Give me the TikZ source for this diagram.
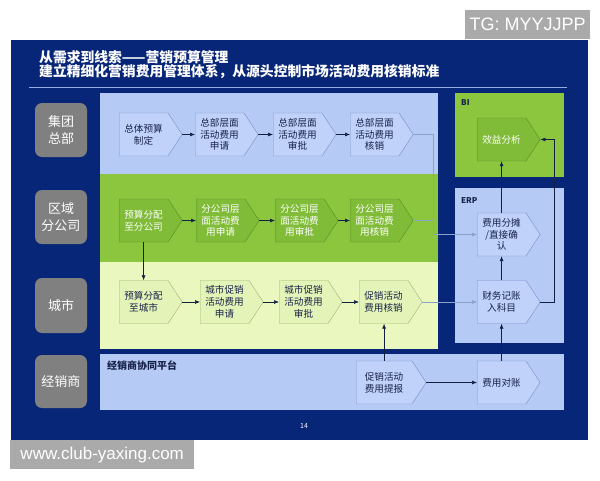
\documentclass[tikz,border=0pt]{standalone}
\usepackage{fontspec}
\setmainfont{Noto Sans CJK SC}
\newfontfamily\wmfont{Liberation Sans}
\usetikzlibrary{shapes.symbols,arrows.meta}

\definecolor{panelblue}{RGB}{8,38,120}
\definecolor{rulecol}{RGB}{150,172,222}
\definecolor{bluelane}{RGB}{182,202,246}
\definecolor{bluebox}{RGB}{192,210,250}
\definecolor{blueline}{RGB}{120,142,200}
\definecolor{greenlane}{RGB}{140,198,63}
\definecolor{greenbox}{RGB}{128,188,56}
\definecolor{greenline}{RGB}{86,142,34}
\definecolor{yellowlane}{RGB}{234,248,192}
\definecolor{yellowbox}{RGB}{228,244,184}
\definecolor{yellowline}{RGB}{160,180,112}
\definecolor{lanegray}{RGB}{128,128,128}
\definecolor{boxtext}{RGB}{24,34,72}
\definecolor{darkline}{RGB}{20,32,66}
\definecolor{paleline}{RGB}{140,160,204}
\definecolor{wmgray}{RGB}{170,170,170}

\tikzset{
    stage/.style={signal, signal to=east, signal from=nowhere, signal pointer angle=113,
        draw, minimum width=63pt, minimum height=43pt, inner sep=1pt, align=center,
        text=boxtext, font=\fontsize{9.6}{11.8}\selectfont},
    bluestage/.style={stage, fill=bluebox, draw=blueline},
    greenstage/.style={stage, fill=greenbox, draw=greenline, text=white},
    yellowstage/.style={stage, fill=yellowbox, draw=yellowline},
    lane/.style={rounded corners=7pt, fill=lanegray, text=white, minimum width=52pt,
        align=center, font=\fontsize{13}{16.5}\selectfont},
    flow/.style={-{Latex[length=5pt,width=4pt]}, draw=darkline, semithick},
    feed/.style={-{Latex[length=5pt,width=4pt]}, draw=paleline, semithick},
    tag/.style={anchor=west, inner sep=0pt, text=boxtext, font=\fontsize{8}{9}\selectfont\bfseries}
}

\begin{document}
\begin{tikzpicture}[x=1pt, y=-1pt]

    \useasboundingbox (0,0) rectangle (600,480);
    \fill[panelblue] (11,40) rectangle (588,440);
    \draw[rulecol, thick] (29,87) -- (567,87);

    \node[anchor=west, inner sep=0pt, text=white, font=\fontsize{13.8}{15}\selectfont\bfseries] (title) at (39,57) {从需求到线索——营销预算管理};
    \node[anchor=west, inner sep=0pt, text=white, font=\fontsize{13.8}{15}\selectfont\bfseries] (subtitle) at (39,72) {建立精细化营销费用管理体系，从源头控制市场活动费用核销标准};

    %lanes
    \fill[bluelane] (100,93) rectangle (438,174);
    \fill[greenlane] (100,174) rectangle (438,262);
    \fill[yellowlane] (100,262) rectangle (438,349);
    \fill[bluelane] (100,354) rectangle (564,410);
    \fill[greenlane] (455,93) rectangle (564,177);
    \fill[bluelane] (455,188) rectangle (564,343);

    \node[lane, minimum height=54pt] (hq) at (61,130) {集团\\总部};
    \node[lane, minimum height=54pt] (branch) at (61,217) {区域\\分公司};
    \node[lane, minimum height=55pt] (city) at (61,305.5) {城市};
    \node[lane, minimum height=53pt] (dealer) at (61,381.5) {经销商};

    \node[tag] (bi) at (461,103) {BI};
    \node[tag] (erp) at (461,201) {ERP};
    \node[tag, font=\fontsize{10}{12}\selectfont\bfseries] (platform) at (107,366) {经销商协同平台};

    %headquarters
    \node[bluestage, anchor=west] (hqA) at (119,134.5) {总体预算\\制定};
    \node[bluestage, anchor=west] (hqB) at (195,134.5) {总部层面\\活动费用\\申请};
    \node[bluestage, anchor=west] (hqC) at (273,134.5) {总部层面\\活动费用\\审批};
    \node[bluestage, anchor=west] (hqD) at (350,134.5) {总部层面\\活动费用\\核销};
    %branch
    \node[greenstage, anchor=west] (brA) at (119,220.5) {预算分配\\至分公司};
    \node[greenstage, anchor=west] (brB) at (196,220.5) {分公司层\\面活动费\\用申请};
    \node[greenstage, anchor=west] (brC) at (275,220.5) {分公司层\\面活动费\\用审批};
    \node[greenstage, anchor=west] (brD) at (350,220.5) {分公司层\\面活动费\\用核销};
    %city
    \node[yellowstage, anchor=west] (ctA) at (119,302) {预算分配\\至城市};
    \node[yellowstage, anchor=west] (ctB) at (200,302) {城市促销\\活动费用\\申请};
    \node[yellowstage, anchor=west] (ctC) at (279,302) {城市促销\\活动费用\\审批};
    \node[yellowstage, anchor=west] (ctD) at (359,302) {促销活动\\费用核销};
    %dealer
    \node[bluestage, anchor=west, minimum width=70pt] (report) at (356,382.5) {促销活动\\费用提报};
    \node[bluestage, anchor=west] (recon) at (477,382.5) {费用对账};
    %systems
    \node[greenstage, anchor=west] (benefit) at (477,139.5) {效益分析};
    \node[bluestage, anchor=west] (split) at (477,234.5) {费用分摊\\/直接确\\认};
    \node[bluestage, anchor=west] (post) at (477,302) {财务记账\\入科目};

    \foreach \a/\b in {hqA/hqB,hqB/hqC,hqC/hqD,brA/brB,brB/brC,brC/brD,ctA/ctB,ctB/ctC,ctC/ctD,report/recon} {
        \draw[flow] (\a.east) -- (\b.west);
    }
    \draw[flow] (brA.south) -- (ctA.north);
    \draw[flow] (report.north) -- (report.north |- ctD.south);
    \draw[flow] (recon.north) -- (post.south);
    \draw[flow] (post.north) -- (split.south);
    \draw[flow] (split.north) -- (benefit.south);
    \draw[flow] (post.east) -- ++(14,0) |- (benefit.east);

    \coordinate (joint) at (433,234.5);
    \draw[feed] (hqD.east) -| (joint) -- (split.west);
    \draw[paleline, semithick] (brD.east) -- (brD.east -| joint);
    \draw[feed] (ctD.east) -- (post.west);

    \node[text=white, font=\fontsize{7}{8}\selectfont] (page) at (304,426) {14};

    %watermarks
    \node[fill=wmgray, text=white, anchor=north west, minimum width=125pt, minimum height=29pt, inner sep=0pt, font=\wmfont\fontsize{18}{20}\selectfont] (tg) at (465,10) {TG: MYYJJPP};
    \node[fill=wmgray, text=white, anchor=north west, minimum width=184pt, minimum height=29pt, inner sep=0pt, font=\wmfont\fontsize{17}{19}\selectfont] (site) at (10,440) {www.club-yaxing.com};

\end{tikzpicture}
\end{document}
